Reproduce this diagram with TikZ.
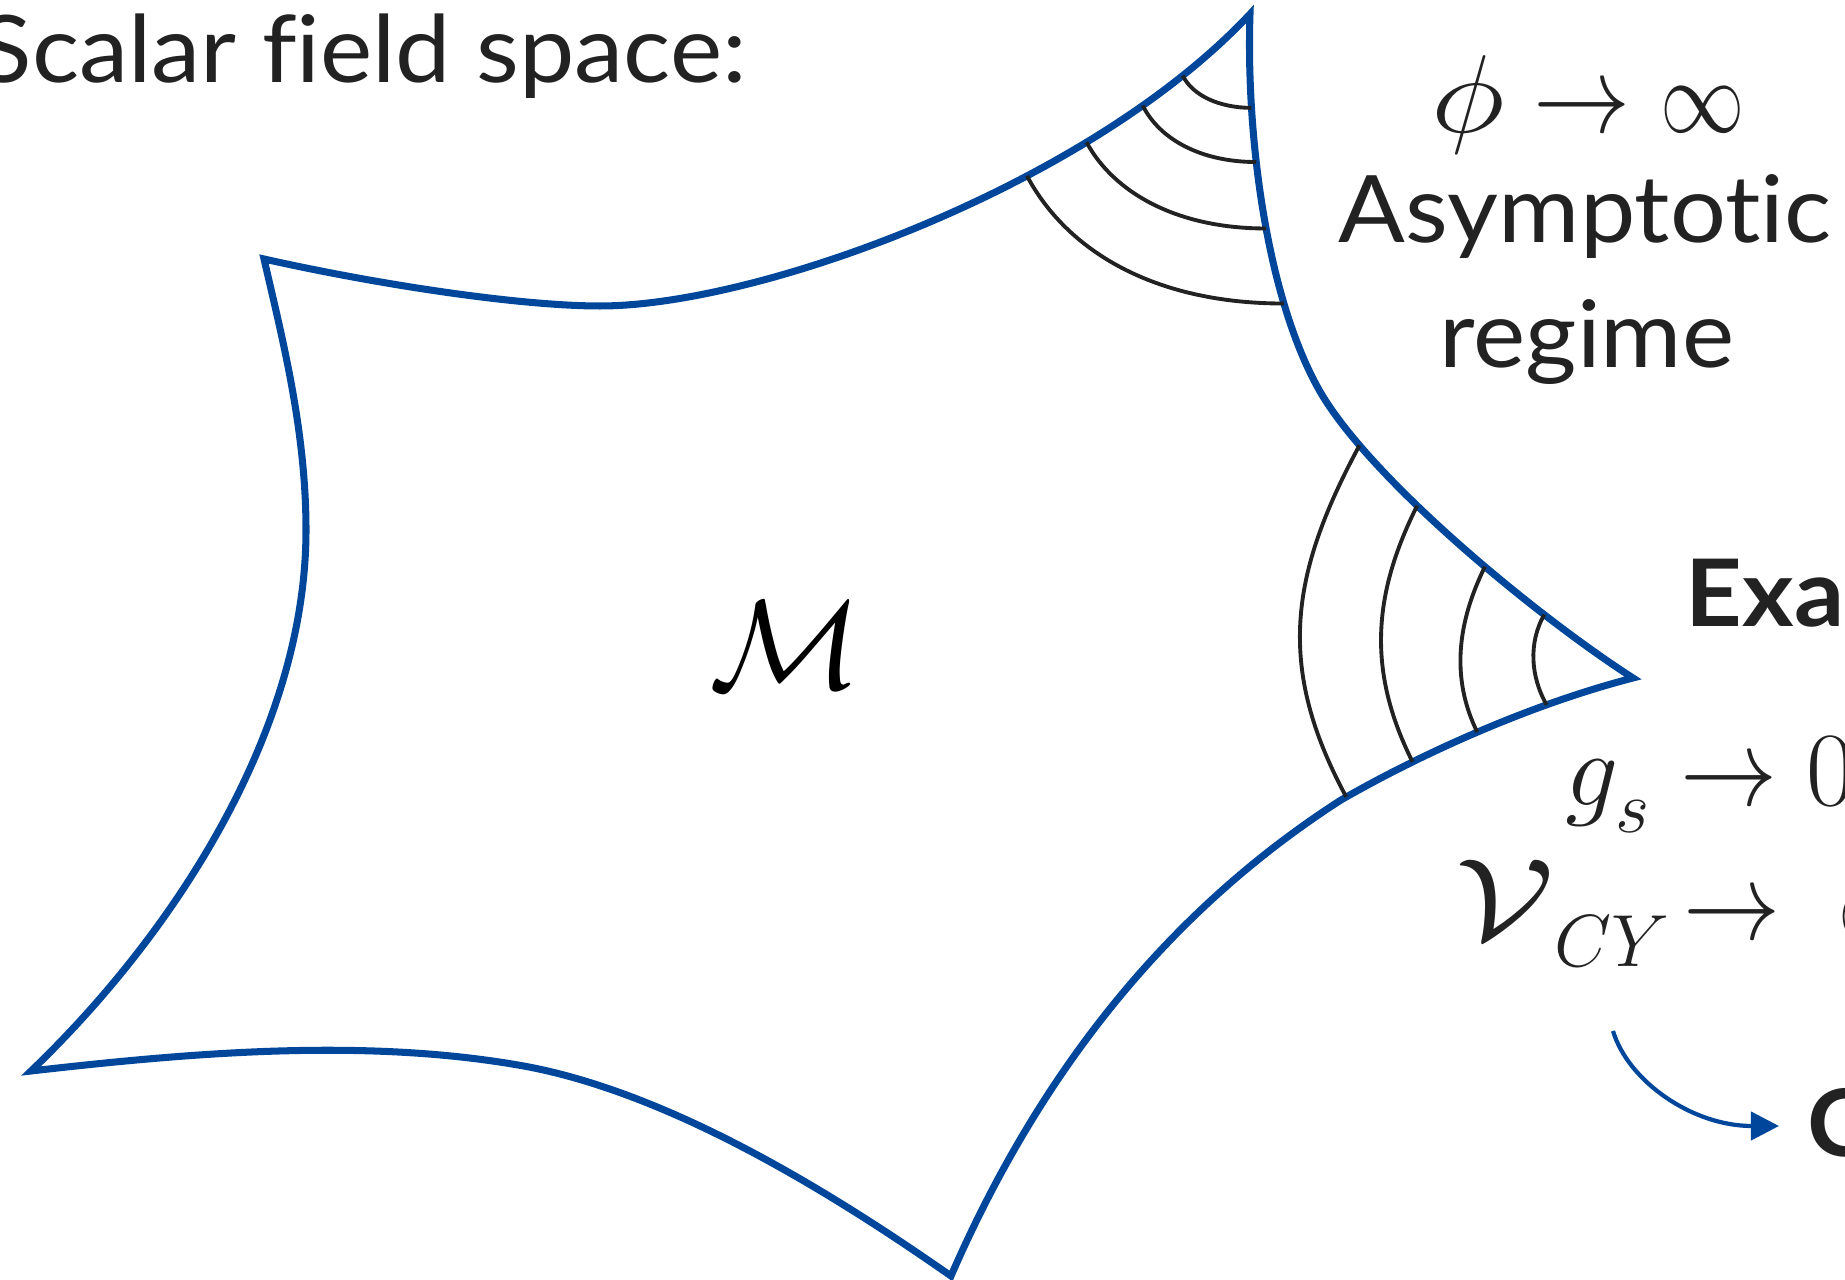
\RequirePackage{fix-cm}
\documentclass[tikz,border=0pt]{standalone}
\usepackage{graphicx}
\usepackage[no-math]{fontspec}
\setmainfont{Lato}[Ligatures={NoCommon,NoContextual}, FakeStretch=1.06]
\usetikzlibrary{arrows.meta}
\definecolor{edgeblue}{RGB}{0,71,155}
\definecolor{ink}{RGB}{34,34,34}
\newcommand\narrowto{\mathrel{\scalebox{0.92}[1.05]{$\rightarrow$}}}
\newcommand\narrowinf{\scalebox{0.8}[1]{$\infty$}}
\newcommand\bigphi{\scalebox{1.2}[1.05]{$\phi$}}
\newcommand\wideV{\scalebox{1.35}[1.1]{$\mathcal{V}$}}
\newcommand\lowsub[2]{\raisebox{-#1}{$\scriptstyle #2$}}
\tikzset{
  outline/.style={draw=edgeblue, line width=2pt, line join=miter, miter limit=12},
  hatch/.style={draw=ink, line width=1.1pt},
  txt/.style={inner sep=0pt, text=ink, font=\fontsize{26.5}{32}\selectfont},
  btxt/.style={inner sep=0pt, text=ink, font=\fontsize{26.5}{32}\selectfont\bfseries},
  mth/.style={inner sep=0pt, text=ink, font=\fontsize{30}{36}\selectfont},
  bluearrow/.style={draw=edgeblue, line width=1.2pt, -{Triangle[length=8pt,width=8pt]}}
}
\begin{document}
\begin{tikzpicture}[x=0.01cm, y=-0.01cm]
\useasboundingbox (0,0) rectangle (1845,1280);
\clip (0,0) rectangle (1845,1280);

% outline of the field space
\draw[outline]
  (264,259) .. controls (380,285) and (520,306) .. (600,306)
  .. controls (760,306) and (1090,185) .. (1250,14)
     coordinate[pos=0.64] (t4) coordinate[pos=0.725] (t3)
     coordinate[pos=0.81] (t2) coordinate[pos=0.875] (t1)
  .. controls (1246,130) and (1265,292) .. (1318,388)
     coordinate[pos=0.25] (r1) coordinate[pos=0.385] (r2)
     coordinate[pos=0.55] (r3) coordinate[pos=0.745] (r4)
  .. controls (1366,475) and (1532,613) .. (1633,678)
     coordinate[pos=0.2] (u1) coordinate[pos=0.39] (u2)
     coordinate[pos=0.58] (u3) coordinate[pos=0.74] (u4)
  .. controls (1536,703) and (1428,750) .. (1341,800)
     coordinate[pos=0.29] (l4) coordinate[pos=0.52] (l3)
     coordinate[pos=0.74] (l2) coordinate[pos=0.98] (l1)
  .. controls (1190,897) and (1051,1046) .. (951,1276)
  .. controls (828,1190) and (665,1090) .. (518,1065)
  .. controls (361,1038) and (189,1053) .. (31,1071)
  .. controls (175,933) and (306,730) .. (306,530)
  .. controls (306,430) and (282,337) .. cycle;

% hatches at the top-right corner
\draw[hatch] (t4) .. controls +(40,75) and +(-130,0) .. (r4);
\draw[hatch] (t3) .. controls +(27,50) and +(-90,0) .. (r3);
\draw[hatch] (t2) .. controls +(17,34) and +(-55,0) .. (r2);
\draw[hatch] (t1) .. controls +(10,20) and +(-32,0) .. (r1);

% hatches at the right corner
\draw[hatch] (u1) .. controls +(-70,130) and +(-70,-130) .. (l1);
\draw[hatch] (u2) .. controls +(-45,90) and +(-45,-90) .. (l2);
\draw[hatch] (u3) .. controls +(-27,55) and +(-27,-55) .. (l3);
\draw[hatch] (u4) .. controls +(-16,28) and +(-16,-28) .. (l4);

% texts
\node[txt, anchor=base west] (title) at (-22,83) {Scalar field space:};
\node[inner sep=0pt, font=\fontsize{36}{40}\selectfont] (M) at (786,645) {$\mathcal{M}$};
\node[mth, anchor=base] (phi) at (1588,133) {$\bigphi \narrowto \narrowinf$};
\node[txt, anchor=base] (asym) at (1585,243) {Asymptotic};
\node[txt, anchor=base] (regime) at (1587,368) {regime};
\node[btxt, anchor=base west] (ex) at (1685,627) {Example};
\node[mth, anchor=base west] (gs) at (1565,806) {$g_{\lowsub{3pt}{s}} \narrowto 0$};
\node[mth, anchor=base west] (vcy) at (1455,940) {$\wideV_{\lowsub{3pt}{CY}} \mkern-3mu \narrowto \mkern5mu \narrowinf$};
\node[btxt, anchor=base west] (cy) at (1807,1157) {C};

% curved arrow
\coordinate (arrS) at (1613,1031);
\coordinate (arrE) at (1779,1126);
\draw[bluearrow] (arrS) .. controls +(15,50) and +(-87,0) .. (arrE);
\end{tikzpicture}
\end{document}
